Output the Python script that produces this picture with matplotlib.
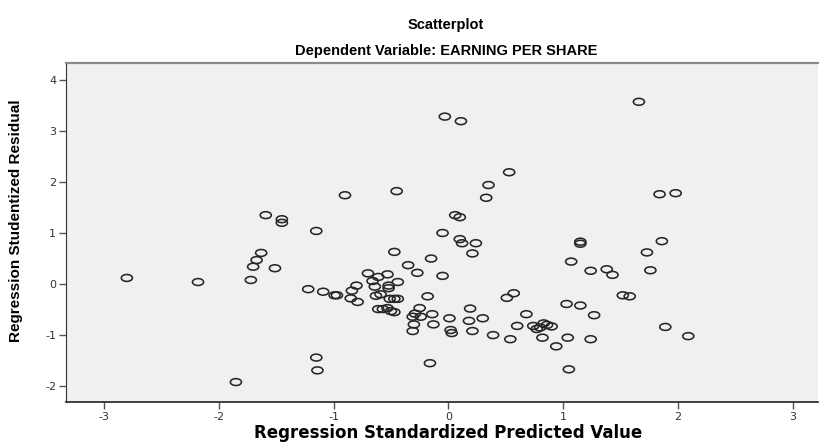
"""
SPSS style residual scatterplot: studentized residual vs standardized predicted value
"""

import matplotlib

matplotlib.use('Agg')

import numpy as np
import matplotlib.pyplot as plt
from matplotlib.path import Path
from matplotlib.transforms import Affine2D

plt.rcParams['axes.unicode_minus'] = False  # SPSS prints plain hyphens

# Values
pred_value = [
    1.66, -0.03, 0.11, 0.53, 0.35, 0.33, -0.90, -0.45, 0.06, 0.10,
    1.84, 1.98, -1.59, -1.45, -1.45, -1.15, -0.05, 0.10, 0.12, 0.24,
    0.21, 1.15, 1.15, 1.86, 1.73, 1.07, 1.24, 1.38, 1.43, 1.76,
    1.52, 1.58, 1.03, 1.15, 1.27, 1.89, 2.09, 1.04, 1.24, 0.94,
    1.05, -2.80, -2.18, -1.72, -1.70, -1.67, -1.63, -1.51, -1.22, -1.15,
    -1.14, -1.85, -0.47, -0.35, -0.15, -0.27, -0.05, -0.70, -0.61, -0.53,
    -0.66, -0.44, -0.52, -0.52, -0.64, -0.80, -0.84, -1.09, -0.99, -0.97,
    -0.85, -0.79, -0.63, -0.59, -0.51, -0.47, -0.44, -0.18, -0.61, -0.57,
    -0.53, -0.50, -0.47, -0.25, -0.29, -0.31, -0.24, -0.14, -0.30, -0.31,
    -0.13, -0.16, 0.01, 0.02, 0.03, 0.19, 0.18, 0.30, 0.21, 0.39,
    0.51, 0.57, 0.54, 0.60, 0.68, 0.74, 0.77, 0.80, 0.83, 0.86,
    0.90, 0.82,
]
stud_resid = [
    3.57, 3.28, 3.19, 2.19, 1.94, 1.69, 1.74, 1.82, 1.35, 1.31,
    1.76, 1.78, 1.35, 1.27, 1.20, 1.04, 1.00, 0.88, 0.80, 0.80,
    0.60, 0.83, 0.79, 0.84, 0.62, 0.44, 0.26, 0.29, 0.18, 0.27,
    -0.22, -0.24, -0.39, -0.42, -0.61, -0.84, -1.02, -1.05, -1.08, -1.22,
    -1.67, 0.12, 0.04, 0.08, 0.34, 0.47, 0.61, 0.31, -0.10, -1.44,
    -1.69, -1.92, 0.63, 0.37, 0.50, 0.22, 0.16, 0.21, 0.14, 0.19,
    0.06, 0.04, -0.03, -0.08, -0.05, -0.03, -0.13, -0.15, -0.22, -0.22,
    -0.28, -0.35, -0.23, -0.20, -0.29, -0.29, -0.29, -0.24, -0.49, -0.49,
    -0.47, -0.53, -0.55, -0.47, -0.58, -0.64, -0.64, -0.59, -0.79, -0.92,
    -0.79, -1.55, -0.67, -0.90, -0.96, -0.48, -0.72, -0.67, -0.92, -1.00,
    -0.27, -0.18, -1.08, -0.82, -0.59, -0.82, -0.88, -0.85, -0.77, -0.80,
    -0.83, -1.05,
]
x_ticks = [-3, -2, -1, 0, 1, 2, 3]
y_ticks = [-2, -1, 0, 1, 2, 3, 4]

TITLE = 'Scatterplot'
SUBTITLE = 'Dependent Variable: EARNING PER SHARE'
X_LABEL = 'Regression Standardized Predicted Value'
Y_LABEL = 'Regression Studentized Residual'

# flattened circle marker (the source image is squashed vertically)
circle = Path.unit_circle()
ellipse = Path(Affine2D().scale(1.0, 0.62).transform(circle.vertices), circle.codes)

fig = plt.figure(figsize=(8.19, 4.42), dpi=100)
ax = fig.add_axes([66 / 819, 1 - 402 / 442, 752 / 819, 339 / 442])
ax.set_facecolor('#F0F0F0')

ax.scatter(pred_value, stud_resid, marker=ellipse, s=64,
           facecolors='none', edgecolors='#262626', linewidths=1.15)

ax.set_xlim(-3.33, 3.22)
ax.set_ylim(-2.31, 4.33)
ax.set_xticks(x_ticks)
ax.set_yticks(y_ticks)
ax.tick_params(axis='both', direction='out', length=5, width=1,
               color='#555555', labelcolor='#333333', labelsize=8, pad=2)

for lab in ax.get_xticklabels() + ax.get_yticklabels():
    lab.set_family('DejaVu Sans')

ax.spines['left'].set_color('#333333')
ax.spines['bottom'].set_color('#222222')
ax.spines['bottom'].set_linewidth(1.2)
ax.spines['top'].set_color('#8a8a8a')
ax.spines['top'].set_linewidth(1.6)
ax.spines['right'].set_visible(False)

fig.text(446 / 819, 1 - 25 / 442, TITLE, ha='center', va='center',
         fontsize=10.5, weight='bold', family='Liberation Sans')
fig.text(446 / 819, 1 - 51 / 442, SUBTITLE, ha='center', va='center',
         fontsize=10.5, weight='bold', family='Liberation Sans')
fig.text(448 / 819, 1 - 433 / 442, X_LABEL, ha='center', va='center',
         fontsize=12, weight='bold', family='DejaVu Sans')
fig.text(16 / 819, 1 - 221 / 442, Y_LABEL, ha='center', va='center',
         rotation=90, fontsize=11, weight='bold', family='Liberation Sans')

fig.savefig('out.png', dpi=100, facecolor='white')
plt.close(fig)
